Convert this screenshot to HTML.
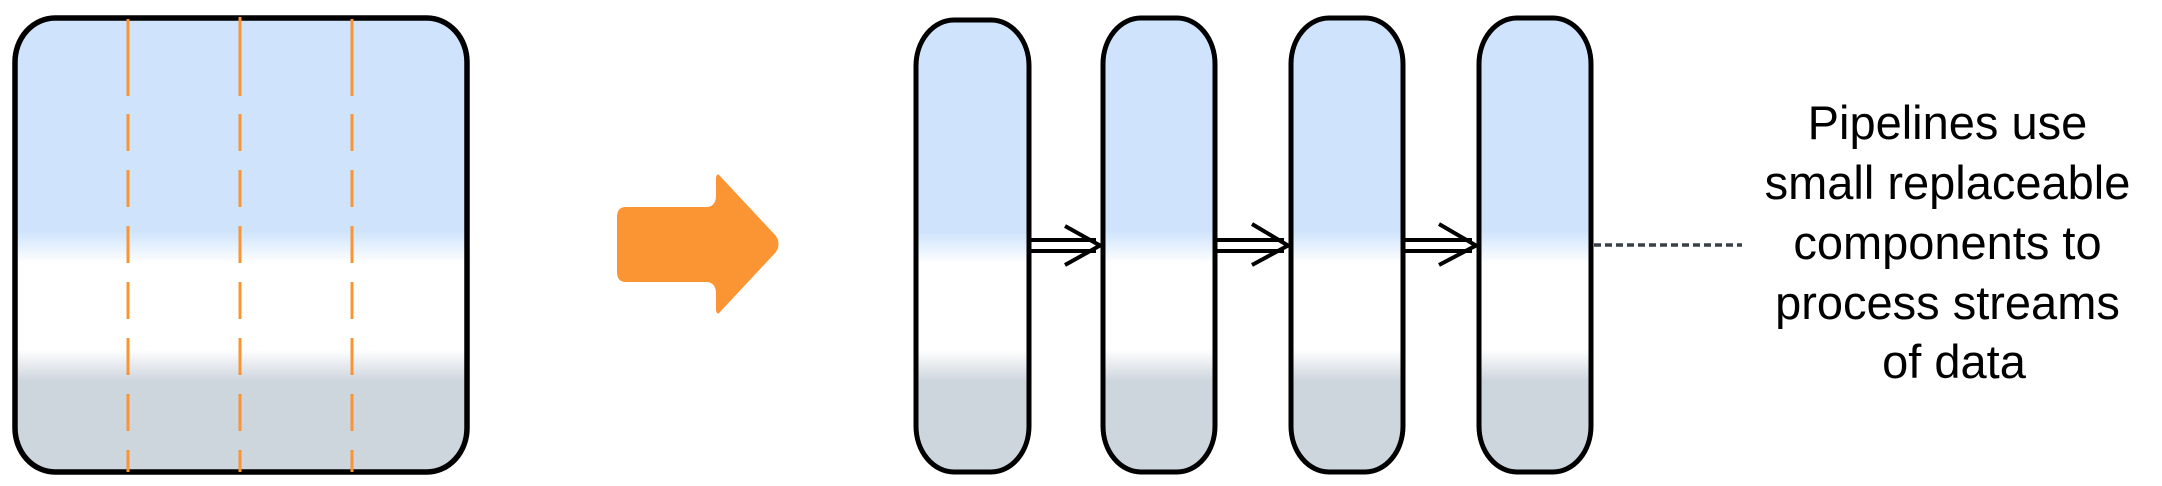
<!DOCTYPE html>
<html><head><meta charset="utf-8"><style>
html,body{margin:0;padding:0;background:#fff;width:2162px;height:486px;overflow:hidden}
svg{display:block}
</style></head><body>
<svg width="2162" height="486" viewBox="0 0 2162 486">
<defs>
<linearGradient id="g" x1="0" y1="0" x2="0" y2="1" gradientUnits="objectBoundingBox">
<stop offset="0" stop-color="#cfe4fc"/><stop offset="0.47" stop-color="#cfe4fc"/>
<stop offset="0.54" stop-color="#ffffff"/><stop offset="0.73" stop-color="#ffffff"/>
<stop offset="0.80" stop-color="#cdd5dd"/><stop offset="1" stop-color="#cdd5dd"/>
</linearGradient>
</defs>
<g>
<rect x="15" y="18" width="452" height="454" rx="40" ry="44" fill="url(#g)" stroke="#000" stroke-width="5.5"/>
<g stroke="#fb9433" stroke-width="3">
<line x1="128" y1="19" x2="128" y2="96"/><line x1="128" y1="114" x2="128" y2="472" stroke-dasharray="37 19"/>
<line x1="240" y1="17" x2="240" y2="96"/><line x1="240" y1="114" x2="240" y2="472" stroke-dasharray="37 19"/>
<line x1="352" y1="19" x2="352" y2="96"/><line x1="352" y1="114" x2="352" y2="472" stroke-dasharray="37 19"/>
</g>
</g>
<path fill="#fb9433" d="M626 207 L706 207 Q716 207 716 195 L716 178 Q717 172 720 176 L776 236 Q781 244 776 252 L720 312 Q717 316 716 310 L716 294 Q716 282 706 282 L626 282 Q617 282 617 272 L617 217 Q617 207 626 207 Z"/>
<g>
<rect x="916" y="20" width="113" height="452" rx="38" ry="46" fill="url(#g)" stroke="#000" stroke-width="5"/>
<rect x="1103" y="18" width="112" height="454" rx="38" ry="46" fill="url(#g)" stroke="#000" stroke-width="5"/>
<rect x="1291" y="18" width="112" height="454" rx="38" ry="46" fill="url(#g)" stroke="#000" stroke-width="5"/>
<rect x="1479" y="18" width="112" height="454" rx="38" ry="46" fill="url(#g)" stroke="#000" stroke-width="5"/>
</g>
<g stroke="#000" stroke-width="4" fill="none">
<g><line x1="1031" y1="240" x2="1096" y2="240"/><line x1="1031" y1="251" x2="1096" y2="251"/><polyline points="1065,226 1100,245.5 1065,265"/></g>
<g><line x1="1217" y1="240" x2="1284" y2="240"/><line x1="1217" y1="251" x2="1284" y2="251"/><polyline points="1252,224 1288,245.5 1252,265"/></g>
<g><line x1="1405" y1="240" x2="1472" y2="240"/><line x1="1405" y1="251" x2="1472" y2="251"/><polyline points="1439,224 1476,245.5 1439,265"/></g>
</g>
<line x1="1594" y1="245" x2="1742" y2="245" stroke="#3a4048" stroke-width="3.5" stroke-dasharray="7 4"/>
<text font-family="Liberation Sans, sans-serif" font-size="47" text-anchor="middle" fill="#000">
<tspan x="1954" y="139">Pipelines use</tspan>
<tspan x="1954" y="199">small replaceable</tspan>
<tspan x="1954" y="259">components to</tspan>
<tspan x="1954" y="319">process streams</tspan>
<tspan x="1954" y="378">of data</tspan>
</text>
</svg>
</body></html>
